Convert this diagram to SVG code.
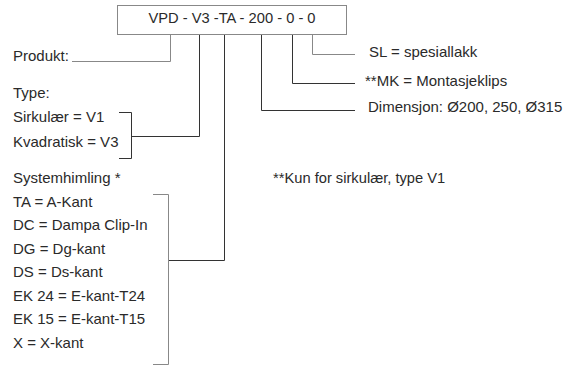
<svg xmlns="http://www.w3.org/2000/svg" width="567" height="367" viewBox="0 0 567 367">
<style>
text{font-family:"Liberation Sans",Arial,sans-serif;font-size:15px;fill:#2a2a2a}
.d{fill:none;stroke:#333;stroke-width:1}
.g{fill:none;stroke:#888;stroke-width:1}
</style>
<rect width="567" height="367" fill="#fff"/>
<g id="code">
<rect class="g" x="117.5" y="5.5" width="229" height="29" fill="#fff"/>
<text x="232" y="23" text-anchor="middle" style="font-size:14.7px">VPD - V3 -TA - 200 - 0 - 0</text>
</g>
<g id="produkt"><text x="13" y="61">Produkt:</text></g>
<g id="type">
<text x="13" y="97.5">Type:</text>
<text x="13" y="122">Sirkulær = V1</text>
<text x="13" y="146.5">Kvadratisk = V3</text>
</g>
<g id="system">
<text x="13" y="183">Systemhimling *</text>
<text x="13" y="206.5">TA = A-Kant</text>
<text x="13" y="230">DC = Dampa Clip-In</text>
<text x="13" y="253.5">DG = Dg-kant</text>
<text x="13" y="277">DS = Ds-kant</text>
<text x="13" y="300.5">EK 24 = E-kant-T24</text>
<text x="13" y="324">EK 15 = E-kant-T15</text>
<text x="13" y="347.5">X = X-kant</text>
</g>
<g id="sl"><text x="369" y="57">SL = spesiallakk</text></g>
<g id="mk"><text x="365" y="86">**MK = Montasjeklips</text></g>
<g id="dim"><text x="368" y="112">Dimensjon: Ø200, 250, Ø315</text></g>
<g id="note"><text x="273" y="182.5" style="font-size:14.7px">**Kun for sirkulær, type V1</text></g>
<g id="connectors">
<path class="g" d="M170.5 35V61.5H72"/>
<path class="d" d="M199.5 35V136.5H131.5"/>
<path class="d" d="M119 112.5H131.5V158.5H119"/>
<path class="d" d="M224.5 35V260.5H168.5"/>
<path class="g" d="M153 194.5H168.5V364.5H153"/>
<path class="d" d="M261.5 35V110.5H355"/>
<path class="d" d="M292.5 35V83.5H355"/>
<path class="g" d="M312.5 35V54.5H355"/>
</g>
</svg>
